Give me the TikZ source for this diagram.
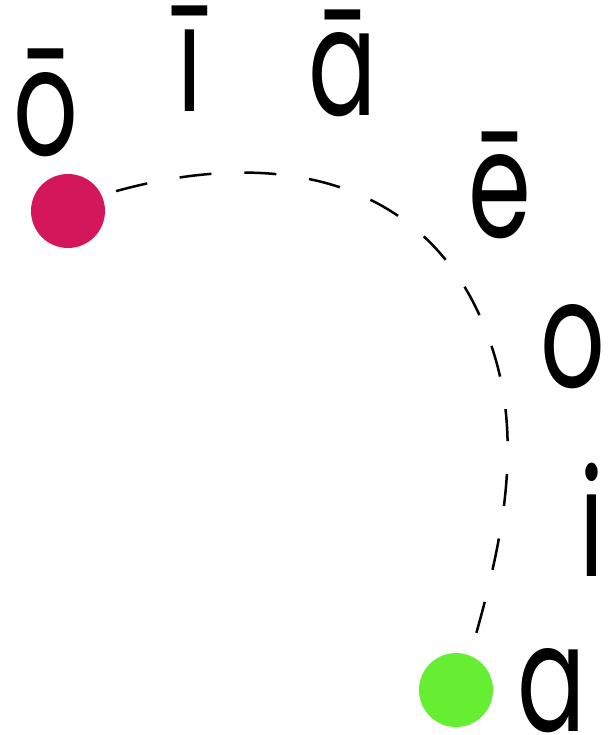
\documentclass[tikz,border=0pt]{standalone}
\usepackage{fontspec}
\newfontfamily\vowfont[FakeStretch=0.68]{Poppins}
\definecolor{dotred}{HTML}{D4175A}
\definecolor{dotgreen}{HTML}{66EE33}
\begin{document}
\begin{tikzpicture}[x=1pt,y=-1pt,vowel/.style={font=\vowfont\fontsize{149}{149}\selectfont,anchor=base,inner sep=0pt},dot/.style={circle,minimum size=74pt,inner sep=0pt}]
\useasboundingbox (0,0) rectangle (613,735);
\node[dot,fill=dotred] (rd) at (68,211) {};
\node[dot,fill=dotgreen] (gn) at (456,690) {};
\node[vowel] (lo) at (46,156) {ō};
\node[vowel] (li) at (190,112) {ī};
\node[vowel] (la) at (343,116) {ā};
\node[vowel] (le) at (500,237) {ē};
\node[vowel] (so) at (573,387) {o};
\node[vowel] (si) at (592,576) {i};
\node[vowel] (sa) at (552,731) {a};
\coordinate (bend) at (498,368);
\draw[line width=2.5pt,dash pattern=on 32pt off 33pt,dash phase=50pt] (rd.25) .. controls (288,139) and (450,184) .. (bend) .. controls (522,462) and (497,562) .. (gn.68);
\end{tikzpicture}
\end{document}
